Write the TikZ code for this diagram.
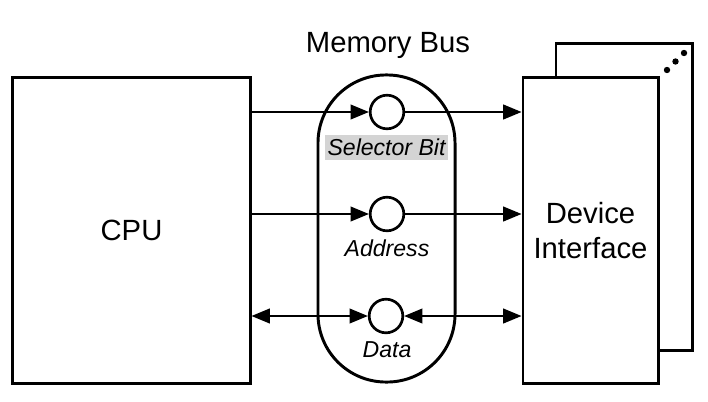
\documentclass[tikz,border=0pt]{standalone}
\usepackage{fontspec}
\setmainfont{Liberation Sans}
\usetikzlibrary{arrows.meta}

\tikzset{
    block/.style={draw, line width=2.1pt, fill=white, inner sep=0pt},
    signal/.style={draw, circle, line width=1.9pt, fill=white, minimum size=0.84cm, inner sep=0pt},
    conn/.style={line width=1.1pt, -{Triangle[length=13pt,width=10.5pt]}},
    biconn/.style={line width=1.1pt, {Triangle[length=13pt,width=10.5pt]}-{Triangle[length=13pt,width=10.5pt]}},
    biglabel/.style={font=\fontsize{20.8}{24}\selectfont},
    smalllabel/.style={font=\fontsize{16.4}{19}\selectfont\itshape, inner sep=0pt}
}

\begin{document}
\begin{tikzpicture}[x=0.025cm,y=-0.025cm]
                \useasboundingbox (0,0) rectangle (708,401);

                % memory bus
                \node[draw, line width=2.1pt, minimum width=3.425cm, minimum height=7.675cm,
                      rounded corners=1.7cm] (bus) at (386.5,228.5) {};
                \node[biglabel] (buslabel) at (388,45) {Memory Bus};

                % cpu and device
                \node[block, biglabel, minimum width=5.925cm, minimum height=7.625cm] (cpu) at (131.5,230.5) {CPU};
                \node[block, minimum width=3.4cm, minimum height=7.65cm] (devback) at (624,197) {};
                \node[block, biglabel, align=center, minimum width=3.375cm, minimum height=7.625cm] (dev) at (590.5,230.5) {Device\\[1pt]Interface};

                \fill (667,70) circle[radius=3.2];
                \fill (675.5,61.5) circle[radius=3.2];
                \fill (684,53) circle[radius=3.2];

                % bus signals
                \node[signal] (sel) at (387,112) {};
                \node[signal] (addr) at (387,214) {};
                \node[signal] (data) at (386,316) {};

                \node[smalllabel, fill=black!17, minimum width=3.075cm, minimum height=0.625cm] (sellabel) at (386.5,147.5) {Selector Bit};
                \node[smalllabel] (addrlabel) at (387,248) {Address};
                \node[smalllabel] (datalabel) at (387,350) {Data};

                \draw[conn] (sel -| cpu.east) -- (sel.west);
                \draw[conn] (sel.east) -- (sel -| dev.west);
                \draw[conn] (addr -| cpu.east) -- (addr.west);
                \draw[conn] (addr.east) -- (addr -| dev.west);
                \draw[biconn] (data -| cpu.east) -- (data.west);
                \draw[biconn] (data.east) -- (data -| dev.west);
            \end{tikzpicture}
\end{document}
